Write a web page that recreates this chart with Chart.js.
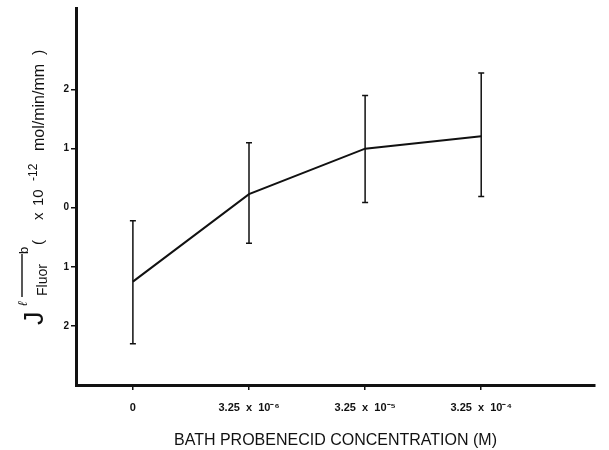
<!DOCTYPE html>
<html>
<head>
<meta charset="utf-8">
<script src="https://cdn.jsdelivr.net/npm/chart.js@4.4.1/dist/chart.umd.min.js"></script>
<style>
  html, body { margin: 0; padding: 0; background: #fff; }
  #wrap { width: 609px; height: 450px; }
</style>
</head>
<body>
<div id="wrap"><canvas id="chart" width="609" height="450"></canvas></div>
<script>
// --- data ---
const categories = ['0', '3.25  x  10\u207B\u2076', '3.25  x  10\u207B\u2075', '3.25  x  10\u207B\u2074'];
const fluxMean = [-1.25, 0.23, 1.0, 1.21];
const errLow = [-2.3, -0.6, 0.09, 0.19];
const errHigh = [-0.22, 1.1, 1.9, 2.28];
const yTicks = [-2, -1, 0, 1, 2];

const FONT = '"Liberation Sans", Arial, Helvetica, sans-serif';

// error bars drawn from the scales
const errorBars = {
  id: 'errorBars',
  afterDatasetsDraw(chart) {
    const { ctx, scales: { x, y } } = chart;
    ctx.save();
    ctx.strokeStyle = '#111';
    ctx.lineWidth = 1.5;
    errLow.forEach((lo, i) => {
      const px = x.getPixelForValue(i);
      const top = y.getPixelForValue(errHigh[i]);
      const bot = y.getPixelForValue(lo);
      ctx.beginPath();
      ctx.moveTo(px, top); ctx.lineTo(px, bot);
      ctx.moveTo(px - 3, top); ctx.lineTo(px + 3, top);
      ctx.moveTo(px - 3, bot); ctx.lineTo(px + 3, bot);
      ctx.stroke();
    });
    ctx.restore();
  }
};

// rotated y-axis title: J(l->b) Fluor ( x 10^-12 mol/min/mm² )
const yTitle = {
  id: 'yTitle',
  afterDraw(chart) {
    const { ctx } = chart;
    ctx.save();
    ctx.fillStyle = '#111';
    ctx.strokeStyle = '#111';
    ctx.rotate(-Math.PI / 2);
    ctx.textBaseline = 'alphabetic';
    // rotated space: text x = -screenY, text y = screenX
    const put = (str, sy, sx, size, weight) => {
      ctx.font = (weight || 'normal') + ' ' + size + 'px ' + FONT;
      ctx.fillText(str, -sy, sx);
    };
    put('J', 325, 43, 27);
    put('\u2113', 306, 27, 13, 'italic');
    ctx.lineWidth = 1.4;
    ctx.beginPath(); ctx.moveTo(-297, 22); ctx.lineTo(-254, 22); ctx.stroke();
    put('b', 254, 28, 13);
    put('Fluor', 296, 47, 14);
    put('(', 245, 43, 15);
    put('x', 220, 43, 15);
    put('10', 206, 43, 15);
    put('-12', 181, 37, 12);
    put('mol/min/mm', 151, 44, 16);
    put(')', 55, 44, 16);
    ctx.restore();
  }
};

new Chart(document.getElementById('chart'), {
  type: 'line',
  data: {
    datasets: [{
      data: fluxMean.map((v, i) => ({ x: i, y: v })),
      borderColor: '#111',
      borderWidth: 2,
      pointRadius: 0,
      tension: 0
    }]
  },
  options: {
    responsive: false,
    animation: false,
    layout: { padding: { top: 7, right: 14, left: 0, bottom: 0 } },
    plugins: { legend: { display: false }, tooltip: { enabled: false } },
    scales: {
      x: {
        type: 'linear',
        min: -0.49,
        max: 3.98,
        afterBuildTicks: s => { s.ticks = categories.map((c, i) => ({ value: i })); },
        afterFit: s => { s.height = 65; },
        border: { color: '#111', width: 3 },
        grid: { drawOnChartArea: false, drawTicks: true, tickLength: 5, color: '#111', lineWidth: 1.5 },
        ticks: {
          color: '#111',
          font: { family: FONT, size: 11, weight: 'bold' },
          padding: 11,
          maxRotation: 0,
          callback: v => categories[v]
        },
        title: {
          display: true,
          text: 'BATH PROBENECID CONCENTRATION (M)',
          color: '#111',
          font: { family: FONT, size: 16 },
          padding: { top: 8, bottom: 0 }
        }
      },
      y: {
        min: -3,
        max: 3.38,
        afterBuildTicks: s => { s.ticks = yTicks.map(v => ({ value: v })); },
        afterFit: s => { s.width = 76; },
        border: { color: '#111', width: 3 },
        grid: { drawOnChartArea: false, drawTicks: true, tickLength: 5, color: '#111', lineWidth: 1.5 },
        ticks: {
          color: '#111',
          font: { family: FONT, size: 10, weight: 'bold' },
          padding: 2,
          callback: v => String(Math.abs(v))
        }
      }
    }
  },
  plugins: [errorBars, yTitle]
});
</script>
</body>
</html>
